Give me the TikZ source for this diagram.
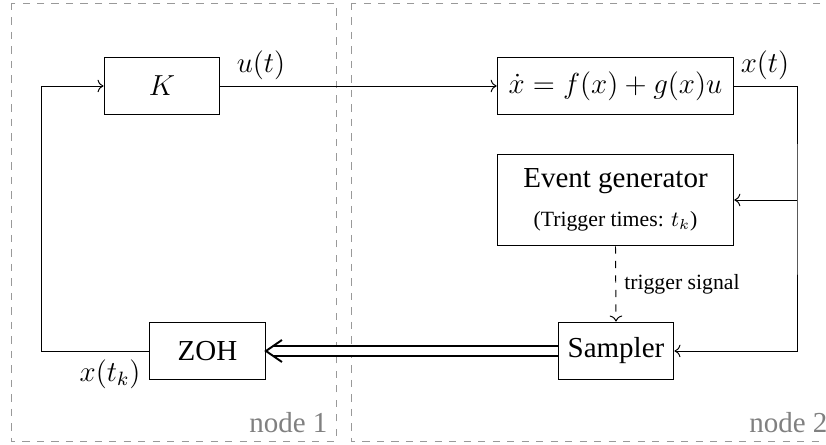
\documentclass[tikz,border=0pt]{standalone}
\usepackage[no-math]{fontspec}
\setmainfont{Liberation Serif}
\usetikzlibrary{arrows.meta}

\tikzset{every picture/.style={line width=0.4pt}}
\tikzset{
  blk/.style={draw, minimum width=48pt, minimum height=24pt, font=\large},
  wideblk/.style={blk, minimum width=98pt},
  frame/.style={draw=gray!80, dashed},
  framelabel/.style={anchor=south east, text=gray, font=\large}
}

\begin{document}
\begin{tikzpicture}[x=0.414pt,y=0.414pt,yscale=-1,xscale=1]
		\clip (0,0) rectangle (826,445);
		%Shape: Rectangle [id:frame1]
		\draw[frame] (11,3) rectangle (336,441) node[framelabel] (lab1) {node 1};
		%Shape: Rectangle [id:frame2]
		\draw[frame] (351,3) rectangle (836,441) node[framelabel] (lab2) {node 2};

		%Blocks
		\node[blk] (K) at (162,86) {$K$};
		\node[wideblk] (plant) at (615.5,86) {$\dot{x} = f(x) + g(x)u$};
		\node[wideblk, minimum height=38pt, align=center] (evgen) at (615.5,200)
			{Event generator\\[2pt] {\small (Trigger times: $t_k$)}};
		\node[blk] (sampler) at (616,351) {Sampler};
		\node[blk] (zoh) at (207.5,351) {ZOH};

		% Text Node
		\node[font=\large] (ulab) at (261,65) {$u(t)$};
		% Text Node
		\node[font=\large] (xlab) at (765,65) {$x(t)$};

		\coordinate (split) at (797,200);
		\coordinate (back) at (41,86);

		%Connectors
		\draw[->] (K.east) -- (plant.west);
		\draw[->] (plant.east) -| (split) |- (sampler.east);
		\draw[->] (split) -- (evgen.east);
		\draw[->, dashed] (evgen.south) -- node[right, font=\small] (trig) {trigger signal} (sampler.north);
		% double arrow, barb drawn by hand
		\draw[thick, double, double distance=3.3pt] (sampler.west) -- ([xshift=3pt]zoh.east);
		\draw[thick] ([shift={(16,-11)}]zoh.east) -- (zoh.east) -- ([shift={(16,11)}]zoh.east);
		\draw[->] (zoh.west) node[below left, font=\large] (xklab) {$x(t_k)$} -| (back) -- (K.west);

	\end{tikzpicture}
\end{document}
